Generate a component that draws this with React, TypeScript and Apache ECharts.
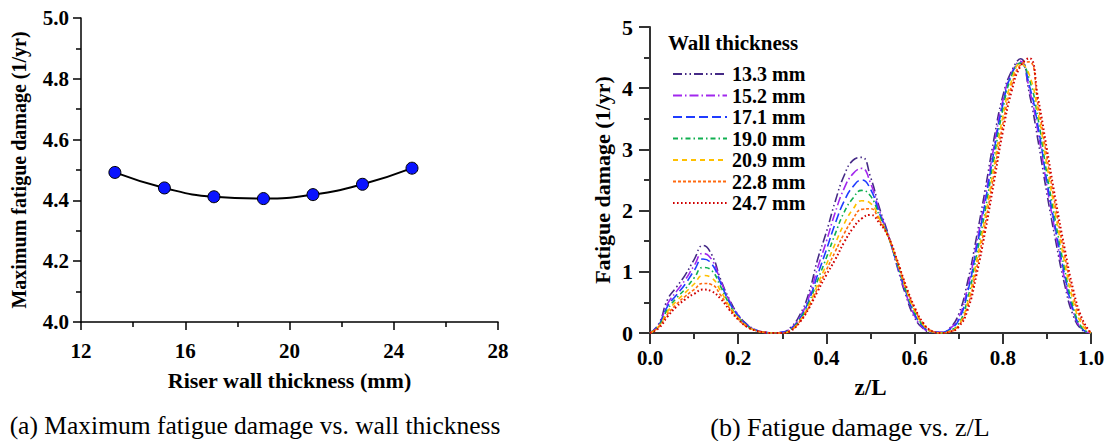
import { useEffect, useRef } from "react";
import * as echarts from "echarts";

const F = "'Liberation Serif', 'Times New Roman', serif";

// Panel (a)
const thickness = [13.3, 15.2, 17.1, 19.0, 20.9, 22.8, 24.7];
const maxDamage = [4.492, 4.441, 4.412, 4.406, 4.419, 4.453, 4.506];

// Panel (b)
const zGrid = [
  0, 0.02, 0.04, 0.06, 0.08, 0.1, 0.12, 0.14, 0.16, 0.18, 0.2, 0.22, 0.24, 0.26, 0.28,
  0.3, 0.32, 0.34, 0.36, 0.38, 0.4, 0.42, 0.44, 0.46, 0.48, 0.5, 0.52, 0.54, 0.56, 0.58, 0.6, 0.62, 0.64, 0.66,
  0.68, 0.7, 0.72, 0.74, 0.76, 0.78, 0.8, 0.82, 0.84, 0.86, 0.88, 0.9, 0.92, 0.94, 0.96, 0.98, 1.0,
];
const seriesNames = ["13.3 mm", "15.2 mm", "17.1 mm", "19.0 mm", "20.9 mm", "22.8 mm", "24.7 mm"];
const d133 = [
  0, 0.15, 0.55, 0.75, 0.95, 1.2, 1.43, 1.28, 0.88, 0.55, 0.3, 0.14, 0.05, 0.01, 0,
  0.01, 0.1, 0.3, 0.65, 1.2, 1.65, 2.15, 2.57, 2.82, 2.87, 2.55, 2.05, 1.62, 1.1, 0.62, 0.25, 0.07, 0.01, 0.01,
  0.08, 0.31, 0.83, 1.55, 2.34, 3.17, 3.87, 4.28, 4.48, 3.92, 3.14, 2.28, 1.5, 0.8, 0.28, 0.05, 0,
];
const d152 = [
  0, 0.14, 0.48, 0.68, 0.87, 1.1, 1.3, 1.2, 0.85, 0.53, 0.29, 0.13, 0.05, 0.01, 0,
  0.01, 0.08, 0.26, 0.58, 1.06, 1.5, 1.97, 2.36, 2.6, 2.69, 2.45, 2.0, 1.6, 1.12, 0.65, 0.28, 0.08, 0.01, 0.01,
  0.07, 0.25, 0.73, 1.44, 2.21, 3.05, 3.79, 4.25, 4.44, 3.99, 3.28, 2.4, 1.61, 0.89, 0.34, 0.06, 0,
];
const d171 = [
  0, 0.13, 0.44, 0.62, 0.8, 1.02, 1.21, 1.13, 0.82, 0.5, 0.28, 0.13, 0.05, 0.01, 0,
  0.01, 0.07, 0.24, 0.53, 0.95, 1.36, 1.79, 2.15, 2.39, 2.5, 2.35, 1.96, 1.59, 1.13, 0.68, 0.31, 0.1, 0.02, 0.01,
  0.06, 0.21, 0.66, 1.36, 2.13, 2.97, 3.73, 4.23, 4.41, 4.05, 3.37, 2.48, 1.69, 0.96, 0.37, 0.07, 0,
];
const d190 = [
  0, 0.12, 0.39, 0.57, 0.72, 0.9, 1.07, 1.02, 0.76, 0.47, 0.26, 0.12, 0.04, 0.01, 0,
  0, 0.06, 0.22, 0.49, 0.86, 1.23, 1.62, 1.97, 2.2, 2.33, 2.24, 1.92, 1.58, 1.15, 0.7, 0.34, 0.12, 0.02, 0,
  0.04, 0.15, 0.55, 1.25, 2.0, 2.85, 3.65, 4.2, 4.41, 4.15, 3.5, 2.6, 1.8, 1.05, 0.42, 0.08, 0,
];
const d209 = [
  0, 0.11, 0.35, 0.52, 0.66, 0.8, 0.94, 0.9, 0.69, 0.44, 0.25, 0.11, 0.04, 0.01, 0,
  0, 0.05, 0.2, 0.45, 0.79, 1.12, 1.46, 1.78, 2.02, 2.16, 2.12, 1.87, 1.58, 1.17, 0.73, 0.37, 0.13, 0.02, 0,
  0.03, 0.13, 0.49, 1.15, 1.89, 2.72, 3.53, 4.12, 4.4, 4.22, 3.6, 2.74, 1.92, 1.16, 0.51, 0.13, 0,
];
const d228 = [
  0, 0.1, 0.31, 0.47, 0.6, 0.71, 0.81, 0.79, 0.62, 0.41, 0.23, 0.1, 0.04, 0.01, 0,
  0, 0.05, 0.19, 0.42, 0.73, 1.03, 1.33, 1.62, 1.86, 2.02, 2.03, 1.84, 1.58, 1.19, 0.76, 0.4, 0.15, 0.03, 0,
  0.02, 0.12, 0.43, 1.04, 1.78, 2.6, 3.41, 4.04, 4.38, 4.43, 3.72, 2.87, 2.04, 1.28, 0.61, 0.18, 0,
];
const d247 = [
  0, 0.08, 0.27, 0.43, 0.55, 0.64, 0.71, 0.68, 0.56, 0.38, 0.22, 0.1, 0.04, 0.01, 0,
  0, 0.04, 0.18, 0.4, 0.68, 0.95, 1.2, 1.48, 1.71, 1.87, 1.93, 1.8, 1.58, 1.2, 0.78, 0.42, 0.16, 0.03, 0,
  0.02, 0.1, 0.37, 0.94, 1.66, 2.47, 3.29, 3.95, 4.36, 4.49, 3.83, 3.0, 2.16, 1.39, 0.7, 0.23, 0,
];
const curveValues = [d133, d152, d171, d190, d209, d228, d247];
const curveColors = ["#452a86", "#a228ee", "#1f3cff", "#10b050", "#ffc000", "#ff6a10", "#d00000"];
const curveDash: number[][] = [
  [9, 3, 1.5, 3, 1.5, 3],
  [9, 3, 1.5, 3],
  [9, 4],
  [5, 3, 1.5, 3],
  [5, 4],
  [3, 2],
  [1.6, 2.4],
];

export default function App() {
  const ref = useRef<HTMLDivElement>(null);
  useEffect(() => {
    if (!ref.current) return;
    const chart = echarts.init(ref.current, undefined, { renderer: "svg" });
    const bold = (size: number) => ({ fontSize: size, fontWeight: "bold" as const, color: "#000", fontFamily: F });
    const axisBase = (color: string, width: number, major: number, minor: number) => ({
      axisLine: { show: true, lineStyle: { color, width } },
      axisTick: { show: true, inside: false, length: major, lineStyle: { color, width } },
      minorTick: { show: true, splitNumber: 2, length: minor, lineStyle: { color, width } },
      splitLine: { show: false },
      minorSplitLine: { show: false },
    });
    const option: any = {
      animation: false,
      textStyle: { fontFamily: F },
      grid: [
        { left: 81, top: 18, width: 417, height: 304 },
        { left: 650, top: 27, width: 441, height: 306 },
      ],
      xAxis: [
        {
          gridIndex: 0, type: "value", min: 12, max: 28, interval: 4,
          name: "Riser wall thickness (mm)", nameLocation: "middle", nameGap: 47,
          nameTextStyle: bold(22),
          axisLabel: { ...bold(21), margin: 18 },
          ...axisBase("#000", 1.5, 8, 5),
        },
        {
          gridIndex: 1, type: "value", min: 0, max: 1, interval: 0.2,
          name: "z/L", nameLocation: "middle", nameGap: 43,
          nameTextStyle: bold(23),
          axisLabel: { ...bold(21), margin: 14, formatter: (v: number) => v.toFixed(1) },
          ...axisBase("#333", 2, 11, 6),
        },
      ],
      yAxis: [
        {
          gridIndex: 0, type: "value", min: 4, max: 5, interval: 0.2,
          name: "Maximum fatigue damage (1/yr)", nameLocation: "middle", nameGap: 52,
          nameTextStyle: bold(20),
          axisLabel: { ...bold(21), margin: 12, formatter: (v: number) => v.toFixed(1) },
          ...axisBase("#000", 1.5, 8, 5),
        },
        {
          gridIndex: 1, type: "value", min: 0, max: 5, interval: 1,
          name: "Fatigue damage (1/yr)", nameLocation: "middle", nameGap: 37,
          nameTextStyle: bold(22),
          axisLabel: { ...bold(22), margin: 17 },
          ...axisBase("#333", 2, 11, 6),
        },
      ],
      legend: {
        data: seriesNames,
        orient: "vertical",
        left: 667,
        top: 59,
        itemWidth: 54,
        itemHeight: 14,
        itemGap: 1.5,
        itemStyle: { color: "transparent", borderColor: "transparent", borderWidth: 0, opacity: 0 },
        textStyle: { ...bold(20), lineHeight: 20 },
      },
      graphic: [
        { type: "text", left: 668, top: 32, style: { text: "Wall thickness", font: `bold 21px ${F}`, fill: "#000" } },
        {
          type: "text", x: 255, y: 425,
          style: { text: "(a) Maximum fatigue damage vs. wall thickness", font: `25.5px ${F}`, fill: "#000", align: "center", verticalAlign: "middle" },
        },
        {
          type: "text", x: 850, y: 427,
          style: { text: "(b) Fatigue damage vs. z/L", font: `26px ${F}`, fill: "#000", align: "center", verticalAlign: "middle" },
        },
      ],
      series: [
        {
          type: "line", xAxisIndex: 0, yAxisIndex: 0, name: "max",
          data: thickness.map((t, i) => [t, maxDamage[i]]),
          smooth: true, symbol: "circle", symbolSize: 12,
          itemStyle: { color: "#0a14ff", borderColor: "#000", borderWidth: 1 },
          lineStyle: { color: "#000", width: 2 },
          z: 3,
        },
        ...seriesNames.map((name, k) => ({
          type: "line", xAxisIndex: 1, yAxisIndex: 1, name,
          data: zGrid.map((z, i) => [z, curveValues[k][i]]),
          smooth: true, symbol: "none",
          itemStyle: { color: curveColors[k] },
          lineStyle: { color: curveColors[k], width: k === 6 ? 2 : 1.6, type: curveDash[k] },
        })),
      ],
    };
    chart.setOption(option);
    return () => chart.dispose();
  }, []);
  return (
    <div
      ref={ref}
      style={{ position: "fixed", left: 0, top: 0, width: 1110, height: 441, background: "#fff" }}
    />
  );
}
